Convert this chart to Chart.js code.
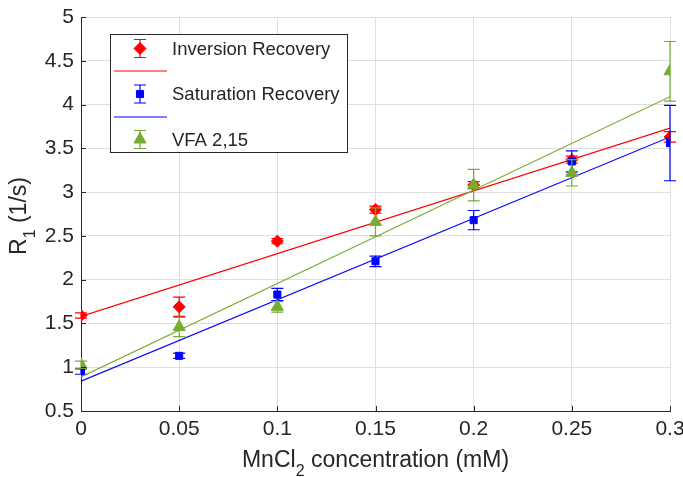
<!DOCTYPE html>
<html>
<head>
<meta charset="utf-8">
<script src="https://cdn.jsdelivr.net/npm/chart.js@4.4.0/dist/chart.umd.min.js"></script>
<style>
  html, body { margin: 0; padding: 0; background: #fff; }
  #wrap { width: 683px; height: 477px; }
</style>
</head>
<body>
<div id="wrap"><canvas id="r1-chart"></canvas></div>
<script>
// R1 vs MnCl2 concentration

var conc = [0, 0.05, 0.1, 0.15, 0.2, 0.25, 0.3];
var irR1 = [1.59, 1.69, 2.44, 2.80, 3.08, 3.37, 3.63];
var irErr = [0.03, 0.11, 0.03, 0.04, 0.04, 0.04, 0.06];
var srR1 = [0.95, 1.13, 1.83, 2.21, 2.68, 3.35, 3.56];
var srErr = [0.03, 0.03, 0.07, 0.06, 0.11, 0.12, 0.43];
var vfaR1 = [1.03, 1.46, 1.69, 2.66, 3.08, 3.22, 4.38];
var vfaErr = [0.04, 0.11, 0.06, 0.16, 0.18, 0.15, 0.34];
// linear fits, value at both ends of the x range
var fitX = [0, 0.3];
var irFit = [1.58, 3.73];
var srFit = [0.84, 3.63];
var vfaFit = [0.89, 4.09];

var legendLabels = ["Inversion Recovery", "Saturation Recovery", "VFA 2,15"];
// axis titles as [text, subscript, rest]
var xTitle = ["MnCl", "2", " concentration (mM)"];
var yTitle = ["R", "1", " (1/s)"];

var red = "#ff0000";
var blue = "#0000ff";
var green = "#77ac30";
var axisColor = "#262626";
var font = "'Liberation Sans', Arial, Helvetica, sans-serif";

function pts(xs, ys) {
  return xs.map(function (x, i) { return { x: x, y: ys[i] }; });
}

var data = {
  datasets: [
    { label: legendLabels[0], data: pts(conc, irR1), errs: irErr, pointStyle: "rectRot", pointRadius: 6,
      backgroundColor: red, borderColor: red, borderWidth: 1, showLine: false, order: 6 },
    { label: "ir fit", data: pts(fitX, irFit), pointRadius: 0, borderColor: red, borderWidth: 1.2,
      showLine: true, order: 5 },
    { label: legendLabels[1], data: pts(conc, srR1), errs: srErr, pointStyle: "rect", pointRadius: 5,
      backgroundColor: blue, borderColor: blue, borderWidth: 1, showLine: false, order: 4 },
    { label: "sr fit", data: pts(fitX, srFit), pointRadius: 0, borderColor: blue, borderWidth: 1.2,
      showLine: true, order: 3 },
    { label: legendLabels[2], data: pts(conc, vfaR1), errs: vfaErr, pointStyle: "triangle", pointRadius: 7,
      backgroundColor: green, borderColor: green, borderWidth: 1, showLine: false, order: 2 },
    { label: "vfa fit", data: pts(fitX, vfaFit), pointRadius: 0, borderColor: green, borderWidth: 1.2,
      showLine: true, order: 1 }
  ]
};

function drawErrBar(ctx, x, yTop, yBot, color) {
  ctx.save();
  ctx.strokeStyle = color;
  ctx.lineWidth = 1.2;
  ctx.beginPath();
  ctx.moveTo(x, yTop); ctx.lineTo(x, yBot);
  ctx.moveTo(x - 6, yTop); ctx.lineTo(x + 6, yTop);
  ctx.moveTo(x - 6, yBot); ctx.lineTo(x + 6, yBot);
  ctx.stroke();
  ctx.restore();
}

// text with a subscript, centred on x=0, baseline at y=0 of the current transform
function drawSubTitle(ctx, parts, size) {
  var big = size + "px " + font, small = Math.round(size * 0.7) + "px " + font;
  ctx.font = big; var w0 = ctx.measureText(parts[0]).width;
  var w2 = ctx.measureText(parts[2]).width;
  ctx.font = small; var w1 = ctx.measureText(parts[1]).width;
  var x = -(w0 + w1 + w2) / 2;
  ctx.textAlign = "left";
  ctx.textBaseline = "alphabetic";
  ctx.font = big; ctx.fillText(parts[0], x, 0);
  ctx.font = small; ctx.fillText(parts[1], x + w0, size * 0.4);
  ctx.font = big; ctx.fillText(parts[2], x + w0 + w1, 0);
}

// error bars under each dataset's markers
var errorBars = {
  id: "errorBars",
  beforeDatasetDraw: function (chart, args) {
    var ds = chart.data.datasets[args.index];
    if (!ds.errs) return;
    var xs = chart.scales.x, ys = chart.scales.y;
    ds.data.forEach(function (p, i) {
      var px = xs.getPixelForValue(p.x);
      drawErrBar(chart.ctx, px, ys.getPixelForValue(p.y + ds.errs[i]), ys.getPixelForValue(p.y - ds.errs[i]), ds.borderColor);
    });
  }
};

// inward tick marks, axis titles, matlab style legend box
var extras = {
  id: "extras",
  afterDraw: function (chart) {
    var ctx = chart.ctx, xs = chart.scales.x, ys = chart.scales.y, a = chart.chartArea;
    ctx.save();
    ctx.strokeStyle = axisColor;
    ctx.lineWidth = 1;
    ctx.beginPath();
    xs.ticks.forEach(function (t) {
      var px = Math.round(xs.getPixelForValue(t.value)) + 0.5;
      ctx.moveTo(px, a.bottom); ctx.lineTo(px, a.bottom - 5);
    });
    ys.ticks.forEach(function (t) {
      var py = Math.round(ys.getPixelForValue(t.value)) + 0.5;
      ctx.moveTo(a.left, py); ctx.lineTo(a.left + 5, py);
    });
    ctx.stroke();

    ctx.fillStyle = axisColor;
    ctx.save();
    ctx.translate((a.left + a.right) / 2, 467);
    drawSubTitle(ctx, xTitle, 23);
    ctx.restore();
    ctx.save();
    ctx.translate(25.5, 216);
    ctx.rotate(-Math.PI / 2);
    drawSubTitle(ctx, yTitle, 23);
    ctx.restore();

    // legend
    var bx = 110.5, by = 34.5, bw = 237, bh = 118;
    ctx.fillStyle = "#fff";
    ctx.fillRect(bx, by, bw, bh);
    ctx.strokeStyle = axisColor;
    ctx.strokeRect(bx, by, bw, bh);

    var rows = [
      { ds: chart.data.datasets[0], y: 48.5, line: 71 },
      { ds: chart.data.datasets[2], y: 94, line: 117 },
      { ds: chart.data.datasets[4], y: 139.5, line: null }
    ];
    ctx.font = "18.5px " + font;
    ctx.textAlign = "left";
    ctx.textBaseline = "middle";
    rows.forEach(function (r) {
      drawErrBar(ctx, 140, r.y - 9, r.y + 9, r.ds.borderColor);
      ctx.fillStyle = r.ds.backgroundColor;
      ctx.strokeStyle = r.ds.borderColor;
      ctx.lineWidth = 1;
      Chart.helpers.drawPoint(ctx, {
        pointStyle: r.ds.pointStyle, radius: r.ds.pointRadius, borderWidth: 1, rotation: 0
      }, 140, r.y);
      ctx.fillStyle = axisColor;
      ctx.fillText(r.ds.label, 172, r.y + 1);
      if (r.line) {
        ctx.strokeStyle = r.ds.borderColor;
        ctx.lineWidth = 1.2;
        ctx.beginPath();
        ctx.moveTo(114, r.line); ctx.lineTo(167, r.line);
        ctx.stroke();
      }
    });
    ctx.restore();
  }
};

var options = {
  responsive: true,
  maintainAspectRatio: false,
  animation: false,
  layout: { padding: { top: 17, right: 13, left: 0, bottom: 0 } },
  plugins: {
    legend: { display: false },
    tooltip: { enabled: false }
  },
  scales: {
    x: {
      type: "linear",
      min: 0,
      max: 0.3,
      afterFit: function (s) { s.height = 66; s.paddingLeft = 0; s.paddingRight = 0; },
      grid: { color: "#dfdfdf", drawTicks: false },
      border: { color: axisColor, width: 1 },
      ticks: {
        stepSize: 0.05,
        padding: 6,
        color: axisColor,
        font: { family: font, size: 21 },
        callback: function (v) { return String(Math.round(v * 100) / 100); }
      }
    },
    y: {
      min: 0.5,
      max: 5,
      afterFit: function (s) { s.width = 81; s.paddingTop = 0; s.paddingBottom = 0; },
      grid: { color: "#dfdfdf", drawTicks: false },
      border: { color: axisColor, width: 1 },
      ticks: {
        stepSize: 0.5,
        padding: 7,
        color: axisColor,
        font: { family: font, size: 21 },
        callback: function (v) { return String(Math.round(v * 10) / 10); }
      }
    }
  }
};

var chart = new Chart(document.getElementById("r1-chart").getContext("2d"), {
  type: "scatter",
  data: data,
  options: options,
  plugins: [errorBars, extras]
});
</script>
</body>
</html>
